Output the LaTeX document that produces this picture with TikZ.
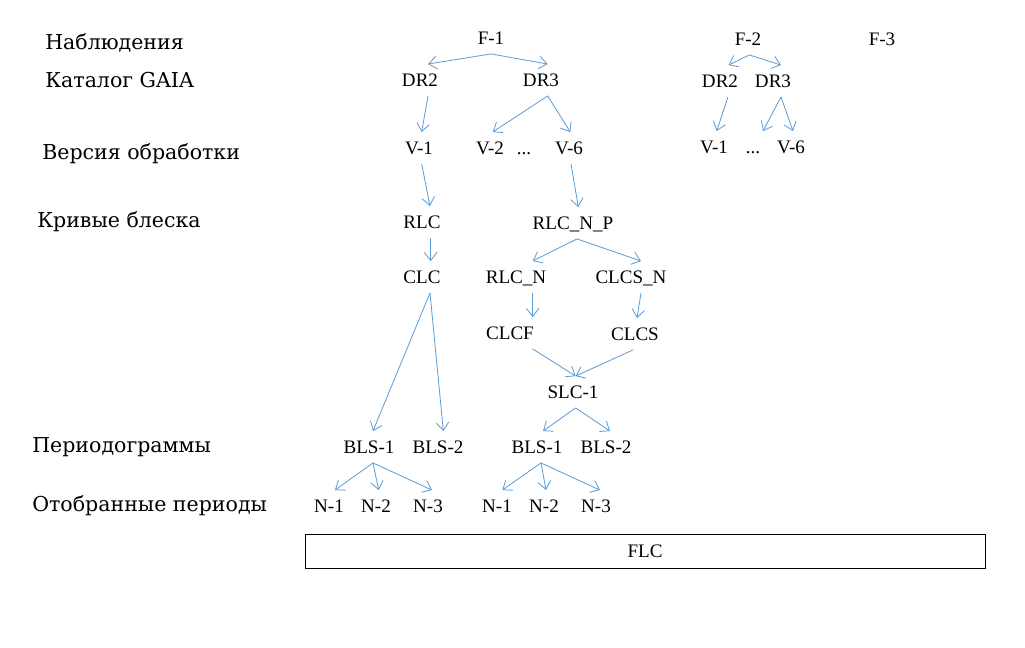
\documentclass[tikz,border=0pt]{standalone}
\usepackage{fontspec}
\setmainfont{Liberation Serif}
\newfontfamily\levelfont{DejaVu Serif}
\usetikzlibrary{arrows.meta}
\definecolor{linkblue}{RGB}{91,155,213}

\begin{document}
\begin{tikzpicture}[x=0.75pt, y=-0.75pt,
    item/.style={inner xsep=2pt, inner ysep=7pt, text height=9.5pt, text depth=0pt, font=\fontsize{14.3}{16}\selectfont},
    level/.style={anchor=base west, inner sep=0pt, font=\levelfont\fontsize{15.4}{18}\selectfont},
    link/.style={draw=linkblue, line width=0.6pt, -{Straight Barb[length=6pt, width=9.5pt]}}]
      \useasboundingbox[fill=white] (0, 0) rectangle (1025, 648);

      % row titles
      \node[level] (obs) at (45, 50) {Наблюдения};
      \node[level] (cat) at (45, 88) {Каталог GAIA};
      \node[level] (ver) at (42, 160) {Версия обработки};
      \node[level] (crv) at (37, 228) {Кривые блеска};
      \node[level] (per) at (32, 453) {Периодограммы};
      \node[level] (sel) at (32, 512) {Отобранные периоды};

      % first tree
      \node[item] (f1) at (491, 38) {F-1};
      \node[item] (dr2a) at (420, 80) {DR2};
      \node[item] (dr3a) at (541, 80) {DR3};
      \node[item] (v1a) at (419, 148) {V-1};
      \node[item] (v2a) at (490, 148) {V-2};
      \node[item] (dotsa) at (524, 148) {...};
      \node[item] (v6a) at (569, 148) {V-6};
      \node[item] (rlc) at (422, 222) {RLC};
      \node[item] (clc) at (422, 277) {CLC};
      \node[item] (rlcnp) at (573, 223) {RLC\_N\_P};
      \node[item] (rlcn) at (516, 277) {RLC\_N};
      \node[item] (clcsn) at (631, 277) {CLCS\_N};
      \node[item] (clcf) at (510, 333) {CLCF};
      \node[item] (clcs) at (635, 334) {CLCS};
      \node[item] (slc) at (573, 392) {SLC-1};
      \node[item] (bls1a) at (369, 447) {BLS-1};
      \node[item] (bls2a) at (438, 447) {BLS-2};
      \node[item] (bls1b) at (537, 447) {BLS-1};
      \node[item] (bls2b) at (606, 447) {BLS-2};
      \node[item] (n1a) at (329, 506) {N-1};
      \node[item] (n2a) at (376, 506) {N-2};
      \node[item] (n3a) at (428, 506) {N-3};
      \node[item] (n1b) at (497, 506) {N-1};
      \node[item] (n2b) at (544, 506) {N-2};
      \node[item] (n3b) at (596, 506) {N-3};

      % second and third trees
      \node[item] (f2) at (748, 39) {F-2};
      \node[item] (f3) at (882, 39) {F-3};
      \node[item] (dr2b) at (720, 81) {DR2};
      \node[item] (dr3b) at (773, 81) {DR3};
      \node[item] (v1b) at (714, 147) {V-1};
      \node[item] (dotsb) at (753, 147) {...};
      \node[item] (v6b) at (791, 147) {V-6};

      \node[draw, line width=0.6pt, minimum width=510pt, minimum height=25.5pt, font=\fontsize{14.3}{16}\selectfont] (flc) at (645, 551) {FLC};

      \draw[link] (f1.south) -- ([xshift=6pt]dr2a.north);
      \draw[link] (f1.south) -- ([xshift=5pt]dr3a.north);
      \draw[link] ([xshift=6pt]dr2a.south) -- ([xshift=2pt]v1a.north);
      \draw[link] ([xshift=5pt]dr3a.south) -- ([xshift=2pt]v2a.north);
      \draw[link] ([xshift=5pt]dr3a.south) -- ([xshift=1pt]v6a.north);
      \draw[link] ([xshift=2pt]v1a.south) -- ([xshift=6pt]rlc.north);
      \draw[link] ([xshift=1.5pt]v6a.south) -- ([xshift=4pt]rlcnp.north);
      \draw[link] ([xshift=6.5pt]rlc.south) -- ([xshift=6.5pt]clc.north);
      \draw[link] ([xshift=3pt]rlcnp.south) -- ([xshift=12.5pt]rlcn.north);
      \draw[link] ([xshift=3pt]rlcnp.south) -- ([xshift=7.5pt]clcsn.north);
      \draw[link] ([xshift=12.5pt]rlcn.south) -- ([xshift=17pt]clcf.north);
      \draw[link] ([xshift=7.5pt]clcsn.south) -- ([xshift=1.5pt]clcs.north);
      \draw[link] ([xshift=17pt]clcf.south) -- ([xshift=2pt]slc.north);
      \draw[link] ([xshift=-1.5pt]clcs.south) -- ([xshift=2pt]slc.north);
      \draw[link] ([xshift=2pt]slc.south) -- ([xshift=4.5pt]bls1b.north);
      \draw[link] ([xshift=2pt]slc.south) -- ([xshift=3pt]bls2b.north);
      \draw[link] ([xshift=6pt]clc.south) -- ([xshift=3pt]bls1a.north);
      \draw[link] ([xshift=6pt]clc.south) -- ([xshift=4pt]bls2a.north);
      \draw[link] ([xshift=3pt]bls1a.south) -- ([xshift=4.5pt]n1a.north);
      \draw[link] ([xshift=3pt]bls1a.south) -- ([xshift=2pt]n2a.north);
      \draw[link] ([xshift=3pt]bls1a.south) -- ([xshift=3pt]n3a.north);
      \draw[link] ([xshift=3pt]bls1b.south) -- ([xshift=4pt]n1b.north);
      \draw[link] ([xshift=3pt]bls1b.south) -- ([xshift=1.5pt]n2b.north);
      \draw[link] ([xshift=3pt]bls1b.south) -- ([xshift=3pt]n3b.north);

      \draw[link] ([xshift=1pt]f2.south) -- ([xshift=6.5pt]dr2b.north);
      \draw[link] ([xshift=1pt]f2.south) -- ([xshift=6pt]dr3b.north);
      \draw[link] ([xshift=6pt]dr2b.south) -- ([xshift=2pt]v1b.north);
      \draw[link] ([xshift=6pt]dr3b.south) -- ([xshift=7.5pt]dotsb.north);
      \draw[link] ([xshift=6pt]dr3b.south) -- ([xshift=1.5pt]v6b.north);
\end{tikzpicture}
\end{document}
